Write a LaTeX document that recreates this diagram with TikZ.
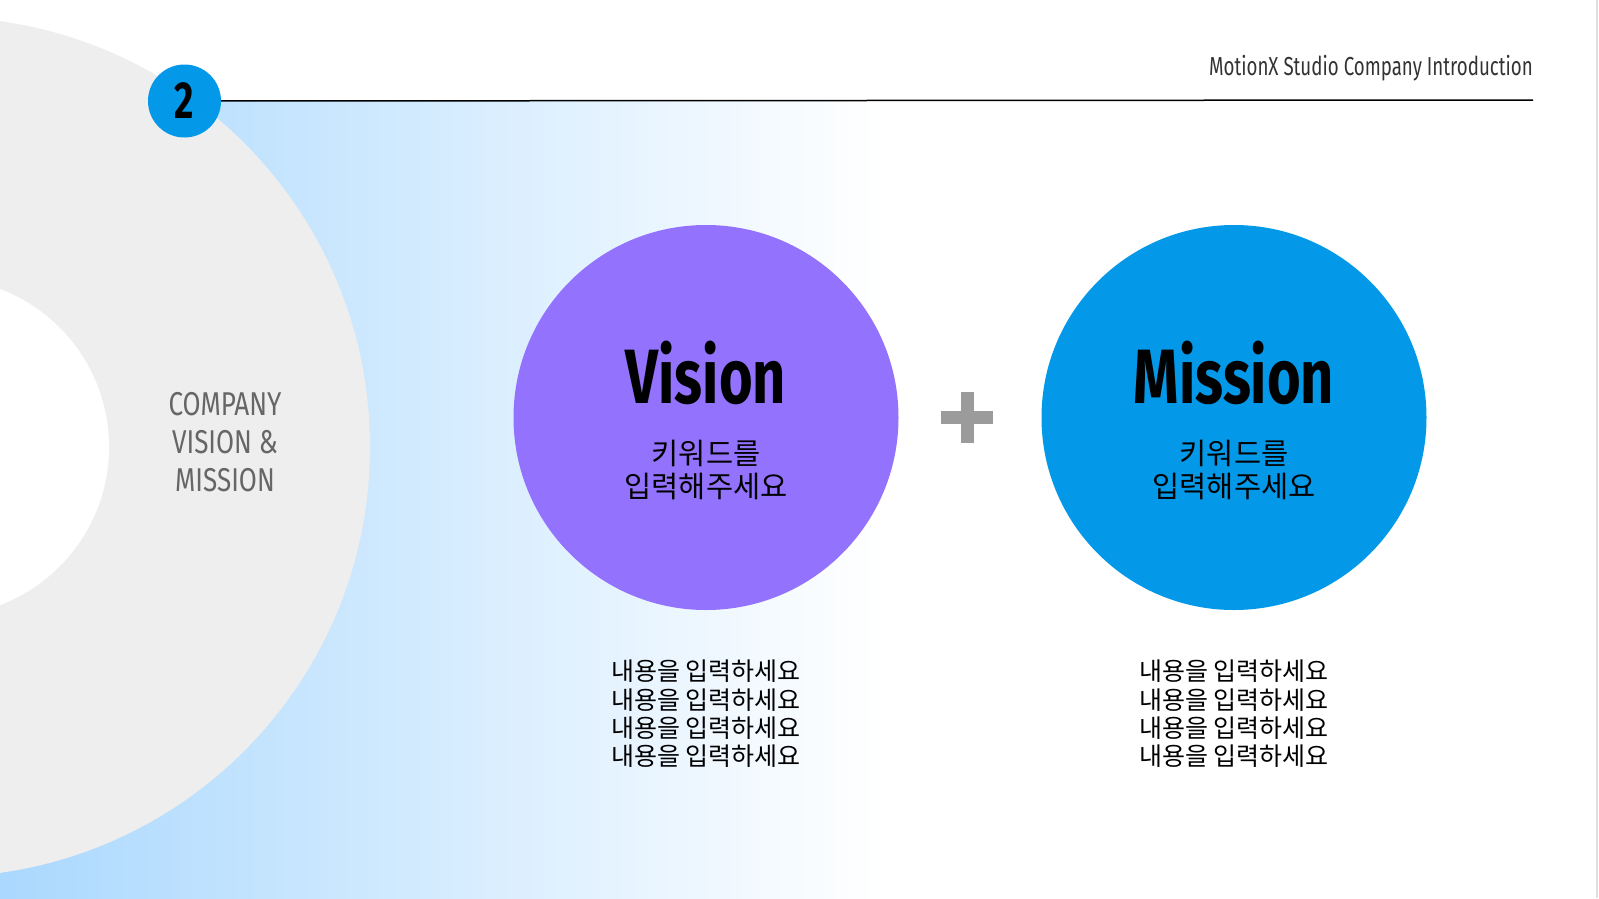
\documentclass[tikz,border=0pt]{standalone}
\usepackage{fontspec}
\usepackage{xcolor}
\usepackage{tikz}
\usetikzlibrary{calc}
\newfontfamily\condfont[FakeStretch=0.72]{Fira Sans}
\newfontfamily\titlefont[FakeStretch=0.75]{Fira Sans}
\newfontfamily\sectionfont[FakeStretch=0.79]{Fira Sans}
\newfontfamily\hangul{Noto Sans CJK KR}
\definecolor{ringgray}{HTML}{EEEEEE}
\definecolor{skyblue}{HTML}{AAD8FE}
\definecolor{visionpurple}{HTML}{9372FE}
\definecolor{missionblue}{HTML}{0399E8}
\definecolor{plusgray}{HTML}{9B9B9B}
\definecolor{labelgray}{HTML}{666666}

\begin{document}
\begin{tikzpicture}[x=1pt,y=-1pt,
	bigdot/.style={circle,minimum size=385pt,inner sep=0pt},
	titletext/.style={anchor=base,inner sep=0pt,font=\titlefont\bfseries\fontsize{77}{80}\selectfont},
	keytext/.style={align=center,inner sep=0pt,font=\hangul\fontsize{29.5}{33}\selectfont},
	bodytext/.style={align=center,inner sep=0pt,font=\hangul\fontsize{25}{28.3}\selectfont}]
	\useasboundingbox (0,0) rectangle (1599,898);
	\clip (0,0) rectangle (1599,898);
	\fill[white] (0,0) rectangle (1599,898);
	\shade[left color=skyblue,right color=white] (0,100) rectangle (880,898);
	\fill[ringgray] (-60,447) circle[radius=430];
	\fill[white] (-60,447) circle[radius=169];
	\draw[black!12,line width=1.5pt] (1597,0)--(1597,898);
	% header
	\node[anchor=base east,inner sep=0pt,text=black!80,font=\condfont\fontsize{26}{30}\selectfont] (header) at (1533,75) {MotionX Studio Company Introduction};
	\coordinate (lineend) at (1533,100);
	\node[circle,fill=missionblue,minimum size=73pt,inner sep=0pt,font=\condfont\bfseries\fontsize{52}{52}\selectfont] (badge) at (184.5,101) {2};
	\draw[line width=1.5pt] (badge)--(lineend);
	\node[align=center,inner sep=0pt,text=labelgray,font=\sectionfont\fontsize{33}{38}\selectfont] (section) at (225,442) {COMPANY\\VISION \&\\MISSION};
	% circles
	\node[bigdot,fill=visionpurple] (vision) at (706,417.5) {};
	\node[bigdot,fill=missionblue] (mission) at (1234,417.5) {};
	\node[titletext] (visiontitle) at (706,403) {Vision};
	\node[titletext] (missiontitle) at (1234,403) {Mission};
	\node[keytext] (visionkey) at (706,470) {키워드를\\입력해주세요};
	\node[keytext] (missionkey) at (1234,470) {키워드를\\입력해주세요};
	% plus
	\fill[plusgray] (941,411) rectangle (993,424);
	\fill[plusgray] (960.5,392) rectangle (973.5,443);
	% body text
	\node[bodytext] (visionbody) at (706,714) {내용을 입력하세요\\내용을 입력하세요\\내용을 입력하세요\\내용을 입력하세요};
	\node[bodytext] (missionbody) at (1234,714) {내용을 입력하세요\\내용을 입력하세요\\내용을 입력하세요\\내용을 입력하세요};
\end{tikzpicture}
\end{document}
